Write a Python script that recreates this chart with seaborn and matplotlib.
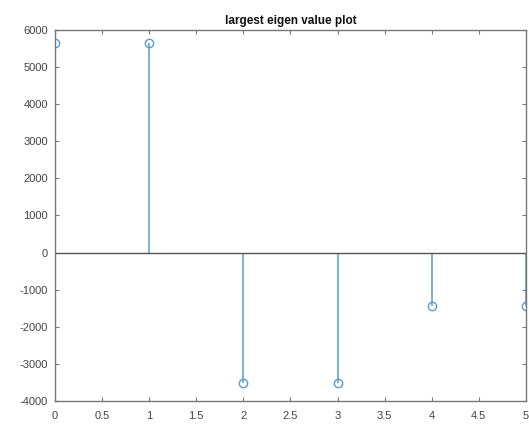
import matplotlib
matplotlib.use("Agg")
import matplotlib.pyplot as plt
import seaborn as sns

# Largest eigenvalue at each step
steps = [0, 1, 2, 3, 4, 5]
eigen_values = [5650, 5650, -3520, -3520, -1450, -1450]

x_ticks = [0, 0.5, 1, 1.5, 2, 2.5, 3, 3.5, 4, 4.5, 5]
x_tick_labels = ["0", "0.5", "1", "1.5", "2", "2.5", "3", "3.5", "4", "4.5", "5"]
y_ticks = [-4000, -3000, -2000, -1000, 0, 1000, 2000, 3000, 4000, 5000, 6000]

sns.set_style("white")
plt.rcParams["font.family"] = ["Liberation Sans", "DejaVu Sans"]
plt.rcParams["axes.unicode_minus"] = False

stem_color = "#5b9bcf"
axis_color = "#777777"

fig = plt.figure(figsize=(5.29, 4.28), dpi=100)
ax = fig.add_axes([0.104, 0.063, 0.890, 0.867])

markerline, stemlines, baseline = ax.stem(steps, eigen_values, basefmt="-")
plt.setp(stemlines, color=stem_color, linewidth=1.1)
plt.setp(markerline, color=stem_color, markerfacecolor="none", markersize=6,
         markeredgewidth=1.0)
plt.setp(baseline, color="#555555", linewidth=1.0)

ax.set_xlim(0, 5)
ax.set_ylim(-4000, 6000)
ax.set_xticks(x_ticks)
ax.set_xticklabels(x_tick_labels)
ax.set_yticks(y_ticks)

ax.tick_params(direction="in", length=3, width=0.8, colors=axis_color,
               labelsize=8, labelcolor="#444444",
               top=True, right=True, bottom=True, left=True)
ax.tick_params(axis="x", pad=7)
ax.tick_params(axis="y", pad=5)
for side in ax.spines.values():
    side.set_color(axis_color)
    side.set_linewidth(1.0)
    side.set_visible(True)

ax.set_title("largest eigen value plot", fontsize=8.5, fontweight="bold",
             color="#111111", pad=4)

fig.savefig("out.png", dpi=100)
